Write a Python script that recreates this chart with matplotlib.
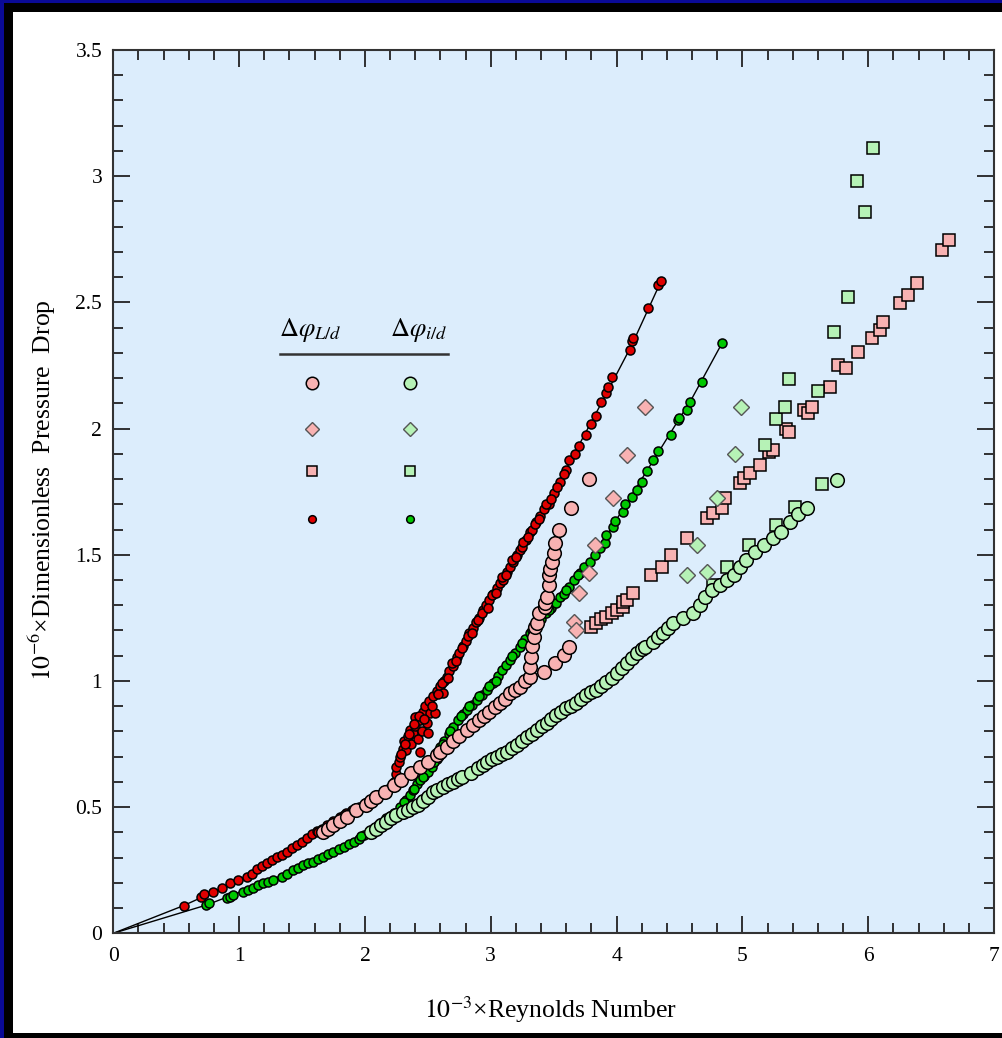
import matplotlib
matplotlib.use("Agg")
import matplotlib.pyplot as plt
from matplotlib.patches import Rectangle
from matplotlib.ticker import MultipleLocator

plt.rcParams['font.family'] = ['Liberation Serif', 'DejaVu Serif']
plt.rcParams['mathtext.fontset'] = 'stix'

# ---- data: 10^-3 Re  vs  10^-6 dimensionless pressure drop ----
# small dots, L/d
ld_dot_x = [0.56, 0.70, 0.72, 0.79, 0.86, 0.93, 0.99, 1.06, 1.10, 1.14, 1.18, 1.22, 1.26, 1.30,
            1.34, 1.38, 1.42, 1.46, 1.50, 1.54, 1.58, 1.62, 1.66, 1.70, 1.75, 1.80, 1.85, 1.90,
            1.95, 2.00, 2.05, 2.10, 2.15, 2.20, 2.23, 2.25, 2.25, 2.27, 2.28, 2.30, 2.31, 2.33,
            2.34, 2.36, 2.37, 2.385, 2.40, 2.40, 2.42, 2.44, 2.44, 2.45, 2.46, 2.48, 2.49, 2.50,
            2.51, 2.52, 2.54, 2.56, 2.57, 2.60, 2.62, 2.63, 2.65, 2.67, 2.70, 2.73, 2.75, 2.78,
            2.80, 2.83, 2.86, 2.88, 2.91, 2.94, 2.96, 2.99, 3.02, 3.05, 3.07, 3.10, 3.13, 3.15,
            3.18, 3.21, 3.23, 3.25, 3.28, 3.31, 3.33, 3.36, 3.39, 3.42, 3.46, 3.50, 3.55, 3.60,
            3.62, 3.67, 3.70, 3.76, 3.80, 3.84, 3.88, 3.92, 3.935, 3.96, 4.11, 4.12, 4.13, 4.25,
            4.33, 4.35,
            2.29, 2.32, 2.35, 2.39, 2.43, 2.47, 2.53, 2.58, 2.61, 2.66, 2.69, 2.72, 2.77, 2.82,
            2.85, 2.90, 2.93, 2.98, 3.01, 3.04, 3.09, 3.12, 3.17, 3.20, 3.26, 3.30, 3.35, 3.38,
            3.44, 3.48, 3.53, 3.58, 1.63, 1.72, 1.83, 1.93, 2.03, 2.13, 2.18]
ld_dot_y = [0.11, 0.145, 0.155, 0.165, 0.18, 0.20, 0.211, 0.224, 0.235, 0.255, 0.265, 0.278, 0.29, 0.304,
            0.312, 0.323, 0.337, 0.35, 0.362, 0.377, 0.392, 0.405, 0.415, 0.43, 0.445, 0.46, 0.475, 0.49,
            0.50, 0.515, 0.53, 0.545, 0.56, 0.575, 0.60, 0.63, 0.66, 0.68, 0.70, 0.73, 0.76, 0.727,
            0.78, 0.806, 0.75, 0.793, 0.858, 0.82, 0.77, 0.72, 0.845, 0.80, 0.875, 0.90, 0.832, 0.793,
            0.92, 0.872, 0.94, 0.872, 0.96, 0.98, 0.951, 1.00, 1.017, 1.04, 1.06, 1.096, 1.11, 1.14,
            1.16, 1.19, 1.21, 1.235, 1.25, 1.281, 1.30, 1.32, 1.345, 1.37, 1.39, 1.40, 1.43, 1.45,
            1.47, 1.50, 1.52, 1.53, 1.56, 1.59, 1.60, 1.63, 1.655, 1.68, 1.70, 1.744, 1.79, 1.836,
            1.876, 1.90, 1.93, 1.975, 2.02, 2.048, 2.107, 2.14, 2.166, 2.206, 2.31, 2.345, 2.36, 2.477,
            2.57, 2.585,
            0.71, 0.75, 0.79, 0.83, 0.86, 0.85, 0.90, 0.95, 0.99, 1.01, 1.07, 1.08, 1.13, 1.18,
            1.19, 1.24, 1.27, 1.29, 1.34, 1.35, 1.41, 1.42, 1.48, 1.49, 1.55, 1.57, 1.62, 1.64,
            1.70, 1.72, 1.77, 1.82, 0.40, 0.425, 0.47, 0.495, 0.525, 0.55, 0.57]

# small dots, i/d
id_dot_x = [0.74, 0.76, 0.90, 0.93, 0.95, 1.03, 1.07, 1.11, 1.15, 1.19, 1.23, 1.27, 1.34, 1.38,
            1.43, 1.47, 1.51, 1.55, 1.59, 1.63, 1.67, 1.71, 1.75, 1.79, 1.83, 1.87, 1.91, 1.95,
            1.99, 2.03, 2.07, 2.12, 2.17, 2.23, 2.28, 2.33, 2.36, 2.385, 2.41, 2.44, 2.47, 2.50,
            2.53, 2.57, 2.60, 2.63, 2.67, 2.70, 2.74, 2.78, 2.81, 2.85, 2.89, 2.93, 2.97, 3.02,
            3.06, 3.09, 3.12, 3.15, 3.19, 3.23, 3.27, 3.31, 3.35, 3.40, 3.44, 3.48, 3.52, 3.55,
            3.58, 3.62, 3.66, 3.71, 3.74, 3.79, 3.83, 3.87, 3.91, 3.92, 3.97, 3.99, 4.05, 4.07,
            4.12, 4.16, 4.20, 4.24, 4.29, 4.33, 4.43, 4.49, 4.50, 4.56, 4.58, 4.68, 4.84,
            2.31, 2.39, 2.46, 2.55, 2.62, 2.68, 2.76, 2.83, 2.91, 2.99, 3.04, 3.17, 3.25, 3.33,
            3.46, 3.60, 3.69, 1.97, 2.10, 2.20]
id_dot_y = [0.112, 0.12, 0.139, 0.145, 0.152, 0.165, 0.172, 0.178, 0.19, 0.198, 0.205, 0.211, 0.224, 0.236,
            0.251, 0.26, 0.271, 0.278, 0.284, 0.295, 0.304, 0.313, 0.323, 0.333, 0.343, 0.352, 0.363, 0.375,
            0.39, 0.40, 0.416, 0.436, 0.455, 0.476, 0.50, 0.528, 0.548, 0.568, 0.59, 0.608, 0.625, 0.64,
            0.66, 0.69, 0.74, 0.76, 0.79, 0.819, 0.845, 0.87, 0.885, 0.905, 0.925, 0.945, 0.964, 0.99,
            1.02, 1.044, 1.065, 1.083, 1.11, 1.136, 1.165, 1.19, 1.215, 1.245, 1.27, 1.29, 1.31, 1.334,
            1.345, 1.374, 1.40, 1.427, 1.453, 1.473, 1.50, 1.525, 1.546, 1.579, 1.61, 1.635, 1.67, 1.70,
            1.73, 1.757, 1.79, 1.83, 1.876, 1.91, 1.975, 2.034, 2.04, 2.074, 2.107, 2.184, 2.338,
            0.52, 0.57, 0.62, 0.68, 0.75, 0.80, 0.86, 0.90, 0.94, 0.98, 1.00, 1.10, 1.15, 1.20,
            1.28, 1.36, 1.42, 0.385, 0.43, 0.465]

# curves through the small-dot series
ld_line_x = [0.0, 0.56, 1.0, 1.5, 2.0, 2.2, 2.3, 2.4, 2.5, 2.7, 3.0, 3.3, 3.6, 3.9, 4.12, 4.35]
ld_line_y = [0.0, 0.11, 0.21, 0.36, 0.515, 0.575, 0.68, 0.80, 0.88, 1.06, 1.33, 1.585, 1.84, 2.12, 2.33, 2.58]
id_line_x = [0.0, 0.74, 1.2, 1.6, 2.0, 2.2, 2.4, 2.6, 2.9, 3.2, 3.5, 3.8, 4.1, 4.4, 4.6, 4.84]
id_line_y = [0.0, 0.112, 0.2, 0.285, 0.39, 0.46, 0.58, 0.73, 0.93, 1.12, 1.31, 1.48, 1.72, 1.96, 2.12, 2.34]

# circles, L/d
ld_circ_x = [1.67, 1.71, 1.75, 1.80, 1.855, 1.93, 2.01, 2.05, 2.09, 2.16, 2.23, 2.29, 2.37, 2.44,
             2.50, 2.57, 2.60, 2.65, 2.70, 2.75, 2.81, 2.86, 2.91, 2.95, 2.99, 3.03, 3.07, 3.11,
             3.15, 3.19, 3.23, 3.27, 3.31, 3.31, 3.32, 3.33, 3.34, 3.35, 3.365, 3.38, 3.43, 3.43,
             3.445, 3.46, 3.46, 3.47, 3.485, 3.50, 3.51, 3.54, 3.64, 3.78, 3.42, 3.51, 3.58, 3.62]
ld_circ_y = [0.403, 0.415, 0.43, 0.445, 0.462, 0.489, 0.508, 0.525, 0.541, 0.561, 0.588, 0.608, 0.634, 0.66,
             0.68, 0.707, 0.72, 0.74, 0.76, 0.78, 0.806, 0.825, 0.845, 0.86, 0.878, 0.895, 0.912, 0.93,
             0.951, 0.965, 0.977, 1.0, 1.017, 1.057, 1.096, 1.14, 1.176, 1.215, 1.229, 1.268, 1.294, 1.308,
             1.334, 1.38, 1.42, 1.445, 1.473, 1.506, 1.546, 1.60, 1.684, 1.80, 1.037, 1.07, 1.103, 1.136]

# circles, i/d
id_circ_x = [2.05, 2.09, 2.13, 2.17, 2.21, 2.25, 2.30, 2.345, 2.38, 2.42, 2.46, 2.50, 2.54, 2.57,
             2.62, 2.66, 2.70, 2.74, 2.77, 2.84, 2.90, 2.94, 2.97, 3.01, 3.05, 3.09, 3.13, 3.17,
             3.21, 3.25, 3.29, 3.33, 3.37, 3.41, 3.445, 3.48, 3.52, 3.56, 3.60, 3.64, 3.68, 3.72,
             3.76, 3.80, 3.84, 3.88, 3.92, 3.96, 4.00, 4.04, 4.08, 4.12, 4.16, 4.20, 4.23, 4.29,
             4.33, 4.37, 4.41, 4.45, 4.53, 4.61, 4.66, 4.70, 4.76, 4.82, 4.88, 4.93, 4.98, 5.03,
             5.10, 5.17, 5.24, 5.31, 5.38, 5.44, 5.51, 5.75]
id_circ_y = [0.40, 0.415, 0.43, 0.442, 0.455, 0.469, 0.48, 0.489, 0.50, 0.508, 0.525, 0.541, 0.558, 0.568,
             0.581, 0.59, 0.601, 0.611, 0.621, 0.634, 0.654, 0.667, 0.68, 0.69, 0.70, 0.71, 0.72, 0.733,
             0.746, 0.762, 0.779, 0.79, 0.806, 0.82, 0.832, 0.85, 0.865, 0.878, 0.892, 0.902, 0.912, 0.93,
             0.944, 0.955, 0.964, 0.98, 0.997, 1.01, 1.03, 1.05, 1.07, 1.09, 1.11, 1.125, 1.136, 1.156,
             1.175, 1.189, 1.21, 1.229, 1.25, 1.268, 1.30, 1.334, 1.36, 1.38, 1.40, 1.42, 1.45, 1.48,
             1.51, 1.539, 1.565, 1.592, 1.631, 1.66, 1.684, 1.797]

# diamonds
ld_diam_x = [3.66, 3.68, 3.70, 3.78, 3.83, 3.97, 4.08, 4.23]
ld_diam_y = [1.235, 1.20, 1.347, 1.427, 1.539, 1.724, 1.896, 2.087]
id_diam_x = [4.56, 4.64, 4.72, 4.80, 4.94, 4.99]
id_diam_y = [1.42, 1.539, 1.433, 1.724, 1.898, 2.087]

# squares
ld_sq_x = [3.80, 3.84, 3.88, 3.92, 3.96, 4.00, 4.05, 4.05, 4.08, 4.13, 4.27, 4.36, 4.43, 4.56,
           4.72, 4.77, 4.84, 4.86, 4.98, 5.01, 5.06, 5.14, 5.21, 5.24, 5.35, 5.37, 5.49, 5.52,
           5.55, 5.70, 5.76, 5.82, 5.92, 6.03, 6.09, 6.12, 6.25, 6.32, 6.39, 6.585, 6.64]
ld_sq_y = [1.215, 1.229, 1.245, 1.255, 1.27, 1.281, 1.294, 1.314, 1.32, 1.347, 1.42, 1.453, 1.50, 1.566,
           1.645, 1.665, 1.684, 1.724, 1.784, 1.803, 1.823, 1.856, 1.909, 1.916, 2.0, 1.988, 2.074, 2.06,
           2.087, 2.166, 2.252, 2.239, 2.305, 2.358, 2.391, 2.424, 2.497, 2.53, 2.576, 2.708, 2.748]
id_sq_x = [4.77, 4.88, 5.05, 5.18, 5.27, 5.27, 5.34, 5.37, 5.42, 5.60, 5.63, 5.73, 5.84, 5.91, 5.975, 6.04]
id_sq_y = [1.38, 1.453, 1.539, 1.935, 1.618, 2.037, 2.087, 2.196, 1.691, 2.147, 1.781, 2.384, 2.523, 2.979, 2.86, 3.111]

# colours
RED = '#e00000'
GREEN = '#00c800'
PINK = '#f8b2b2'
LGREEN = '#b6f2b6'
BG = '#dcedfc'

# marker sizes
MS_DOT, MS_CIRC, MS_SQ, MS_DIAM = 6.5, 9.8, 8.3, 8.5

fig = plt.figure(figsize=(10.02, 10.38), dpi=100)
fig.patch.set_facecolor('#0a0a96')
fig.patches.append(Rectangle((4 / 1002, 0), 1.0, 1 - 3 / 1038, transform=fig.transFigure,
                             facecolor='black', edgecolor='none', zorder=-2))
fig.patches.append(Rectangle((13 / 1002, 5 / 1038), 1.0, 1 - 17 / 1038, transform=fig.transFigure,
                             facecolor='white', edgecolor='none', zorder=-1))

ax = fig.add_axes([113.3 / 1002, 1 - 933.3 / 1038, 880.7 / 1002, 883.3 / 1038])
ax.set_facecolor(BG)

ax.plot(ld_line_x, ld_line_y, color='black', lw=1.0, zorder=2)
ax.plot(id_line_x, id_line_y, color='black', lw=1.0, zorder=2)

mk = dict(linestyle='none', markeredgecolor='black', markeredgewidth=1.1)
dk = dict(linestyle='none', markeredgecolor='#555555', markeredgewidth=1.0)
ax.plot(ld_dot_x, ld_dot_y, marker='o', markersize=MS_DOT, markerfacecolor=RED, zorder=3, **mk)
ax.plot(id_dot_x, id_dot_y, marker='o', markersize=MS_DOT, markerfacecolor=GREEN, zorder=3, **mk)
ax.plot(ld_sq_x, ld_sq_y, marker='s', markersize=MS_SQ, markerfacecolor=PINK, zorder=4, **mk)
ax.plot(id_sq_x, id_sq_y, marker='s', markersize=MS_SQ, markerfacecolor=LGREEN, zorder=4, **mk)
ax.plot(ld_diam_x, ld_diam_y, marker='D', markersize=MS_DIAM, markerfacecolor=PINK, zorder=5, **dk)
ax.plot(id_diam_x, id_diam_y, marker='D', markersize=MS_DIAM, markerfacecolor=LGREEN, zorder=5, **dk)
ax.plot(ld_circ_x, ld_circ_y, marker='o', markersize=MS_CIRC, markerfacecolor=PINK, zorder=5, **mk)
ax.plot(id_circ_x, id_circ_y, marker='o', markersize=MS_CIRC, markerfacecolor=LGREEN, zorder=5, **mk)

# key table
ax.text(0.224, 0.683, r'$\Delta\varphi_{L/d}$', transform=ax.transAxes, ha='center', va='center', fontsize=19)
ax.text(0.347, 0.683, r'$\Delta\varphi_{i/d}$', transform=ax.transAxes, ha='center', va='center', fontsize=19)
ax.plot([0.189, 0.380], [0.656, 0.656], transform=ax.transAxes, color='#333333', lw=1.8)
rows = [0.623, 0.571, 0.523, 0.469]
keys = [('o', 9, 1.1, 'black'), ('D', 7.5, 1.0, '#555555'), ('s', 7.5, 1.1, 'black'), ('o', 5.5, 1.1, 'black')]
for yy, (m, ms, ew, ec), fl, fr in zip(rows, keys, [PINK, PINK, PINK, RED], [LGREEN, LGREEN, LGREEN, GREEN]):
    ax.plot([0.226], [yy], transform=ax.transAxes, marker=m, markersize=ms, markerfacecolor=fl,
            markeredgecolor=ec, markeredgewidth=ew, linestyle='none')
    ax.plot([0.337], [yy], transform=ax.transAxes, marker=m, markersize=ms, markerfacecolor=fr,
            markeredgecolor=ec, markeredgewidth=ew, linestyle='none')

ax.set_xlim(0, 7)
ax.set_ylim(0, 3.5)
ax.xaxis.set_major_locator(MultipleLocator(1))
ax.xaxis.set_minor_locator(MultipleLocator(0.2))
ax.yaxis.set_major_locator(MultipleLocator(0.5))
ax.yaxis.set_minor_locator(MultipleLocator(0.1))
ax.xaxis.set_major_formatter(plt.FuncFormatter(lambda v, p: f'{v:g}'))
ax.yaxis.set_major_formatter(plt.FuncFormatter(lambda v, p: f'{v:g}'))
ax.tick_params(which='both', direction='in', top=True, right=True, color='#222222', width=1.3)
ax.tick_params(which='major', length=12, labelsize=15.5)
ax.tick_params(which='minor', length=7)
ax.tick_params(axis='x', which='major', pad=10)
ax.tick_params(axis='y', which='major', pad=8)
for s in ax.spines.values():
    s.set_linewidth(1.5)
    s.set_color('#333333')

fig.text(551 / 1002, 1 - 1010 / 1038, r'$10^{-3}$×Reynolds Number', ha='center', va='center', fontsize=18.5)
fig.text(42 / 1002, 1 - 490 / 1038, r'$10^{-6}$×Dimensionless  Pressure  Drop', ha='center', va='center',
         rotation=90, fontsize=18.5)

fig.savefig('out.png', dpi=100, facecolor=fig.get_facecolor())
